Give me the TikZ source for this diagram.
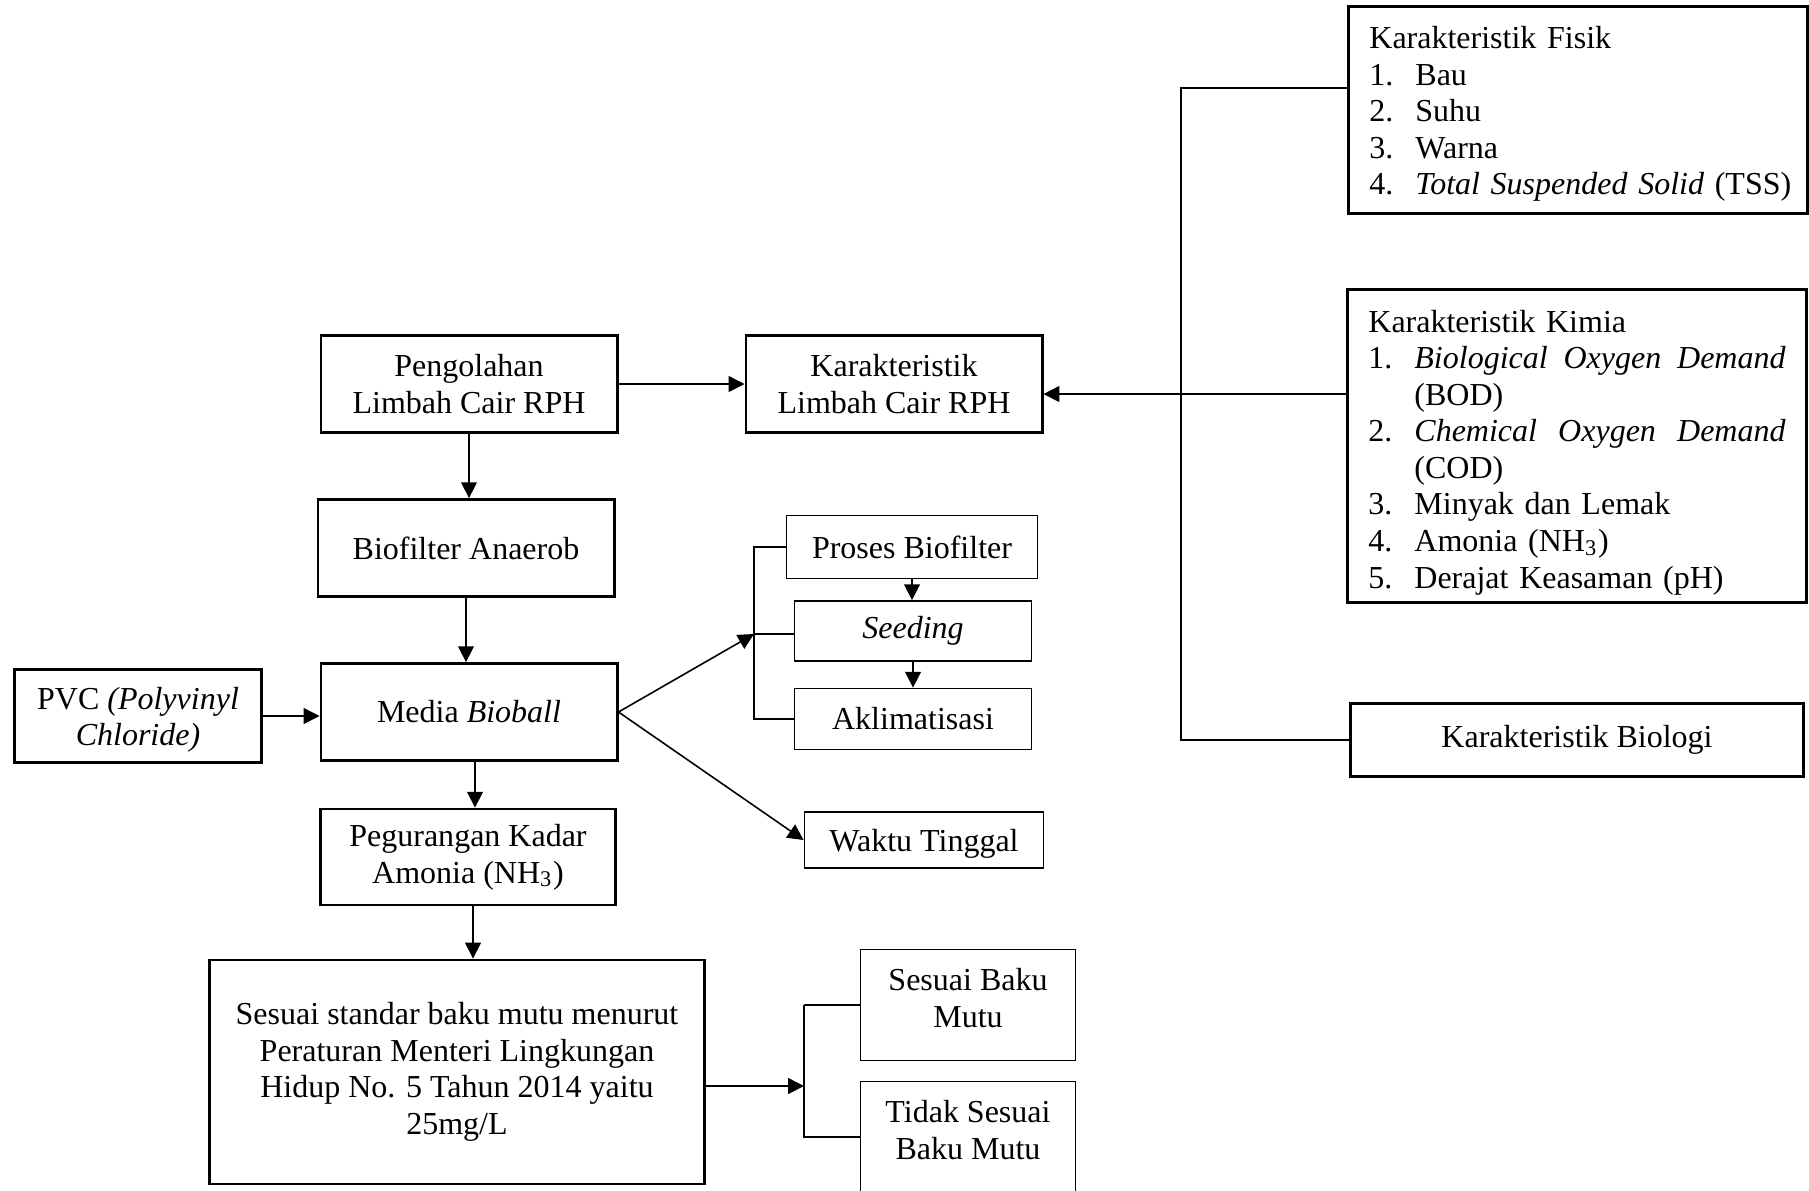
\documentclass[tikz,border=0pt]{standalone}
\usepackage{fontspec}
\setmainfont{Liberation Serif}
\usepackage{tikz}
\usetikzlibrary{positioning, arrows.meta, calc}

% number column of the lists
\newcommand{\lnum}[1]{\makebox[0.46cm][l]{#1}}
% spread a long item over the whole column
\newcommand{\spreadline}[3]{\makebox[3.71cm][l]{\textit{#1}\hfill\textit{#2}\hfill\textit{#3}}}

\tikzset{
  flowbox/.style={draw, line width=0.8pt, align=center, inner sep=0pt},
  thinbox/.style={draw, line width=0.5pt, align=center, inner sep=0pt},
  listbox/.style={draw, line width=0.8pt, align=left, inner xsep=0.21cm, inner ysep=0pt, text width=4.17cm},
  link/.style={line width=0.45pt},
  arr/.style={link, -{Triangle[length=4.5pt, width=4.5pt]}},
}

\begin{document}
\begin{tikzpicture}[x=0.01cm, y=-0.01cm, font=\fontsize{9.1}{10.4}\selectfont]
  \useasboundingbox (0,0) rectangle (1809,1190);

  % main chain
  \node[flowbox, minimum width=2.96cm, minimum height=0.97cm] (olah) at (469,384) {Pengolahan\\Limbah Cair RPH};
  \node[flowbox, minimum width=2.96cm, minimum height=0.97cm] (karlim) at (894,384) {Karakteristik\\Limbah Cair RPH};
  \node[flowbox, minimum width=2.96cm, minimum height=0.97cm] (anaerob) at (466,548) {Biofilter Anaerob};
  \node[flowbox, minimum width=2.96cm, minimum height=0.97cm] (bioball) at (469,712) {Media \textit{Bioball}};
  \node[flowbox, minimum width=2.47cm, minimum height=0.93cm] (pvc) at (138,716) {\rule{0pt}{0.3cm}PVC \textit{(Polyvinyl}\\\textit{Chloride)}};
  \node[flowbox, minimum width=2.95cm, minimum height=0.96cm] (amonia) at (468,857) {Pegurangan Kadar\\Amonia (NH\textsubscript{3})};
  \node[flowbox, minimum width=4.94cm, minimum height=2.24cm] (baku) at (457,1072) {Sesuai standar baku mutu menurut\\Peraturan Menteri Lingkungan\\Hidup No. 5 Tahun 2014 yaitu\\25mg/L};

  % characteristics on the right
  \node[listbox, minimum height=2.07cm] (fisik) at (1578,110) {\rule{0pt}{0.3cm}Karakteristik Fisik\\
    \lnum{1.}Bau\\
    \lnum{2.}Suhu\\
    \lnum{3.}Warna\\
    \mbox{\lnum{4.}\textit{Total Suspended Solid} (TSS)}};
  \node[listbox, minimum height=3.13cm] (kimia) at (1577,446) {\rule{0pt}{0.35cm}Karakteristik Kimia\\
    \lnum{1.}\spreadline{Biological}{Oxygen}{Demand}\\
    \lnum{}(BOD)\\
    \lnum{2.}\spreadline{Chemical}{Oxygen}{Demand}\\
    \lnum{}(COD)\\
    \lnum{3.}Minyak dan Lemak\\
    \lnum{4.}Amonia (NH\textsubscript{3})\\
    \lnum{5.}Derajat Keasaman (pH)};
  \node[flowbox, minimum width=4.53cm, minimum height=0.73cm] (biologi) at (1577,740) {Karakteristik Biologi};

  % media branches
  \node[thinbox, minimum width=2.51cm, minimum height=0.63cm] (proses) at (912,547) {Proses Biofilter};
  \node[thinbox, minimum width=2.37cm, minimum height=0.60cm] (seeding) at (913,631) {\textit{Seeding}};
  \node[thinbox, minimum width=2.37cm, minimum height=0.61cm] (aklim) at (913,719) {Aklimatisasi};
  \node[thinbox, minimum width=2.39cm, minimum height=0.56cm] (waktu) at (924,840) {\rule{0pt}{0.3cm}Waktu Tinggal};

  % result
  \node[thinbox, minimum width=2.15cm, minimum height=1.11cm] (sesuai) at (968,1005) {Sesuai Baku\\Mutu\rule[-0.14cm]{0pt}{0pt}};
  \node[thinbox, minimum width=2.15cm, minimum height=1.11cm] (tidak) at (968,1137) {Tidak Sesuai\\Baku Mutu\rule[-0.14cm]{0pt}{0pt}};

  % arrows
  \draw[arr] (olah.east) -- (karlim.west);
  \coordinate (kin) at ([yshift=-0.1cm]karlim.east);
  \draw[arr] (kimia.west |- kin) -- (kin);
  \coordinate (spine) at (1181,88);
  \draw[link] (fisik.west |- spine) -- (spine) -- (spine |- biologi.west) -- (biologi.west);

  \draw[arr] (olah.south) -- (olah.south |- anaerob.north);
  \draw[arr] (anaerob.south) -- (anaerob.south |- bioball.north);
  \draw[arr] (pvc.east) -- (pvc.east -| bioball.west);
  \draw[arr] ([xshift=0.06cm]bioball.south) -- ([xshift=0.06cm]bioball.south |- amonia.north);
  \draw[arr] ([xshift=0.05cm]amonia.south) -- ([xshift=0.05cm]amonia.south |- baku.north);

  \coordinate (fork) at (754,634);
  \draw[link] (proses.west) -- (fork |- proses.west) -- (fork |- aklim.west) -- (aklim.west);
  \draw[link] (fork) -- (fork -| seeding.west);
  \draw[arr] (bioball.east) -- (fork);
  \draw[arr] (bioball.east) -- (waktu.west);
  \draw[arr] (proses.south) -- (proses.south |- seeding.north);
  \draw[arr] (seeding.south) -- (seeding.south |- aklim.north);

  \coordinate (split) at (804,1086);
  \draw[arr] (baku.east |- split) -- (split);
  \draw[link] (split |- sesuai.west) -- (sesuai.west);
  \draw[link] (split |- sesuai.west) -- (split |- tidak.west) -- (tidak.west);
\end{tikzpicture}
\end{document}
